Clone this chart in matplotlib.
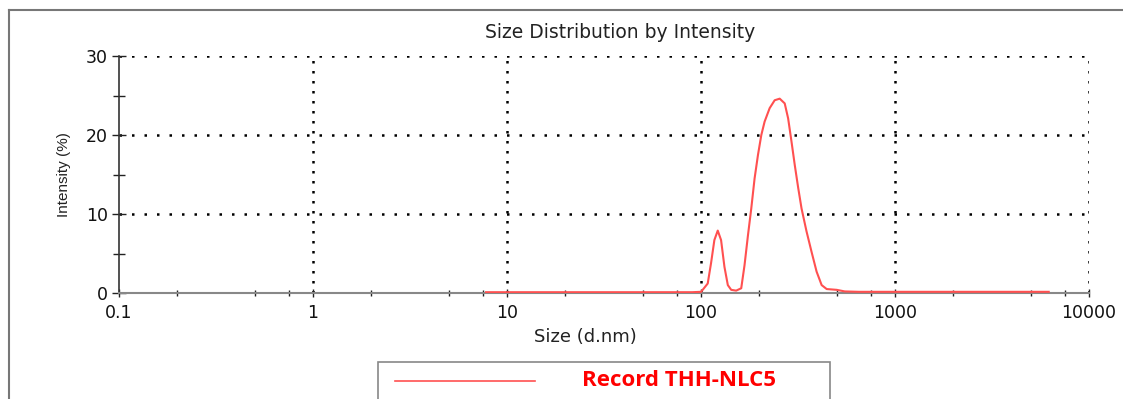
import numpy as np
from matplotlib import pyplot as plt
from matplotlib.patches import Rectangle
from matplotlib.lines import Line2D
from matplotlib.ticker import FixedLocator, NullFormatter

# size (d.nm) and intensity (%)
size_nm = [7.8, 15, 30, 60, 90, 100, 102, 108.3, 112.7, 117.2, 122.0, 126.9, 132.1,
           137.5, 143.1, 151.8, 161.2, 167.6, 174.6, 181.6, 188.9, 196.7, 204.6,
           212.8, 225.9, 239.8, 254.5, 270.1, 281.3, 292.6, 304.3, 317.0, 329.8,
           349.9, 371.5, 394.4, 418.7, 444.5, 500.6, 550.8, 650, 1000, 2000, 4000, 6200]
intensity = [0.1, 0.1, 0.1, 0.1, 0.1, 0.15, 0.4, 1.2, 3.8, 6.7, 7.9, 6.7, 3.3,
             1.0, 0.4, 0.3, 0.6, 3.5, 7.3, 10.7, 14.5, 17.5, 20.0,
             21.7, 23.4, 24.4, 24.6, 24.0, 22.1, 19.2, 16.2, 13.3, 10.7,
             7.8, 5.2, 2.7, 1.0, 0.5, 0.4, 0.2, 0.15, 0.15, 0.15, 0.15, 0.15]

x_major = [0.1, 1, 10, 100, 1000, 10000]
x_labels = ['0.1', '1', '10', '100', '1000', '10000']
y_major = [0, 10, 20, 30]
record_name = 'Record THH-NLC5'

plt.rcParams['font.family'] = ['DejaVu Sans']

fig = plt.figure(figsize=(11.23, 3.99), dpi=100)
W, H = 1123.0, 399.0
ax = fig.add_axes([119 / W, 1 - 293 / H, (1089 - 119) / W, (293 - 56) / H])

ax.plot(size_nm, intensity, color='#ff5050', lw=1.5, zorder=3)

ax.set_xscale('log')
ax.set_xlim(0.1, 10000)
ax.set_ylim(0, 30)

ax.xaxis.set_major_locator(FixedLocator(x_major))
ax.set_xticklabels(x_labels)
minors = []
for d in [0.1, 1, 10, 100, 1000]:
    minors += [2 * d, 5 * d, 7.5 * d]
ax.xaxis.set_minor_locator(FixedLocator(minors))
ax.xaxis.set_minor_formatter(NullFormatter())
ax.set_yticks(y_major)
ax.yaxis.set_minor_locator(FixedLocator([5, 15, 25]))

ax.tick_params(axis='both', which='both', direction='inout', colors='#222222',
               labelsize=12.5)
ax.tick_params(axis='y', which='major', length=10, width=1, pad=3)
ax.tick_params(axis='y', which='minor', length=8, width=1)
ax.tick_params(axis='x', which='major', length=6, width=1, pad=5)
ax.tick_params(axis='x', which='minor', length=5, width=1)
for lab in ax.get_xticklabels() + ax.get_yticklabels():
    lab.set_color('#111111')

for s in ['top', 'right']:
    ax.spines[s].set_visible(False)
ax.spines['left'].set_color('#333333')
ax.spines['bottom'].set_color('#888888')
ax.spines['left'].set_linewidth(1.2)
ax.spines['bottom'].set_linewidth(1.5)

# dotted grid, plus the top and right edges
for xv in [1, 10, 100, 1000, 10000]:
    ax.axvline(xv, color='black', lw=1.8, ls=(0, (1, 3)), zorder=1)
for yv in [10, 20, 30]:
    ax.axhline(yv, color='black', lw=1.8, ls=(0, (1, 4)), zorder=1)

fig.text(620 / W, 1 - 32 / H, 'Size Distribution by Intensity', fontsize=13.5,
         color='#222222', ha='center', va='center')
fig.text(585 / W, 1 - 337 / H, 'Size (d.nm)', fontsize=13,
         color='#222222', ha='center', va='center')
ax.set_ylabel('Intensity (%)', fontsize=11, color='#222222', labelpad=11,
              family=['Liberation Sans Narrow', 'Liberation Sans'])

# outer frame
fig.add_artist(Line2D([9 / W, 9 / W], [0, 1 - 10 / H], transform=fig.transFigure,
                      color='#777777', lw=1.5))
fig.add_artist(Line2D([9 / W, 1], [1 - 10 / H, 1 - 10 / H], transform=fig.transFigure,
                      color='#777777', lw=1.5))

# legend box
fig.add_artist(Rectangle((378 / W, -0.05), (830 - 378) / W, 0.05 + 1 - 362 / H,
                         transform=fig.transFigure, facecolor='white',
                         edgecolor='#888888', lw=1.2))
fig.add_artist(Line2D([395 / W, 535 / W], [1 - 381 / H, 1 - 381 / H],
                      transform=fig.transFigure, color='#ff5050', lw=1.2))
fig.text(582 / W, 1 - 381 / H, record_name, color='#ff0000', fontsize=16,
         fontweight='bold', family=['Open Sans', 'DejaVu Sans'], va='center', ha='left')

fig.savefig('out.png', dpi=100)
